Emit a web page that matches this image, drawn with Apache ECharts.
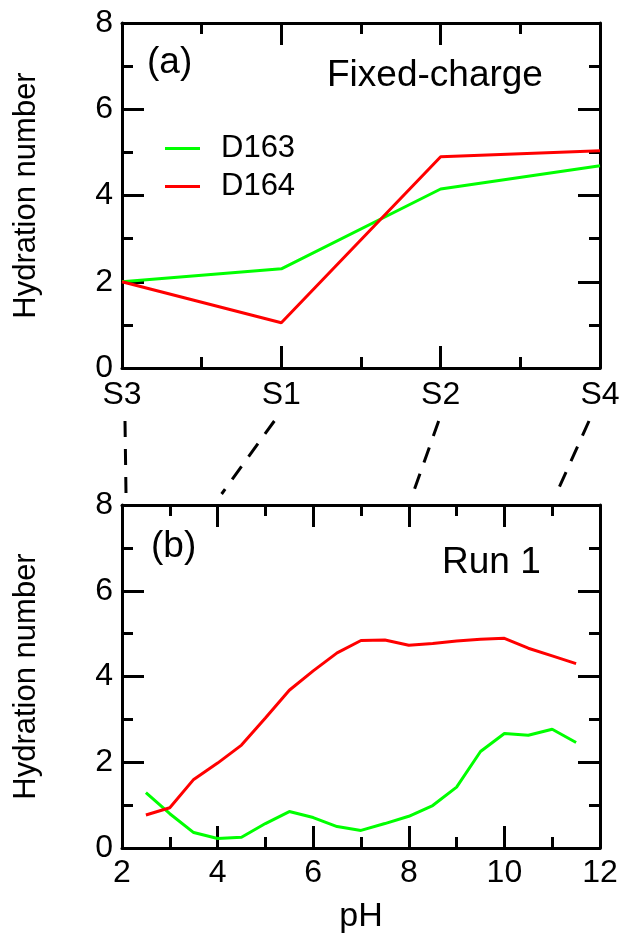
<!DOCTYPE html>
<html>
<head>
<meta charset="utf-8">
<script src="https://cdn.jsdelivr.net/npm/echarts@6/dist/echarts.min.js"></script>
<style>
html,body{margin:0;padding:0;background:#fff;}
#c{width:634px;height:935px;}
</style>
</head>
<body>
<div id="c"></div>
<script>
// ---- data ----
var stations = ['S3', 'S1', 'S2', 'S4'];
var stationIdx = [0, 1, 2, 3];
var fixedD163 = [2.0, 2.30, 4.15, 4.69];
var fixedD164 = [2.0, 1.05, 4.90, 5.04];

var pH = [2.5, 3, 3.5, 4, 4.5, 5, 5.5, 6, 6.5, 7, 7.5, 8, 8.5, 9, 9.5, 10, 10.5, 11, 11.5];
var run1D163 = [1.29, 0.80, 0.36, 0.22, 0.25, 0.57, 0.85, 0.71, 0.50, 0.41, 0.57, 0.74, 0.99, 1.42, 2.25, 2.67, 2.63, 2.77, 2.46];
var run1D164 = [0.77, 0.94, 1.60, 1.98, 2.40, 3.03, 3.68, 4.13, 4.55, 4.84, 4.85, 4.73, 4.77, 4.83, 4.87, 4.89, 4.66, 4.48, 4.30];

var yTicks = [0, 2, 4, 6, 8];
var pHTicks = [2, 4, 6, 8, 10, 12];
// station -> pH mapping of the dashed connectors
var linkPH = [2, 4, 8, 11];

var FONT = '"Liberation Sans", Arial, Helvetica, sans-serif';
var GREEN = '#00ff00', RED = '#ff0000';

function zip(a, b) { return a.map(function (v, i) { return [v, b[i]]; }); }

function xAx(grid, pos, opts) {
  var o = {
    type: 'value', gridIndex: grid, position: pos,
    axisLine: { show: true, onZero: false, lineStyle: { color: '#000', width: 3 } },
    axisTick: { show: true, inside: true, length: 22, lineStyle: { color: '#000', width: 3 } },
    minorTick: { show: true, splitNumber: 2, length: 11, lineStyle: { color: '#000', width: 3 } },
    splitLine: { show: false },
    axisLabel: { show: pos === 'bottom', color: '#000', fontFamily: FONT, fontSize: 32, margin: 10 }
  };
  for (var k in opts) o[k] = opts[k];
  return o;
}
function yAx(grid, pos, withName) {
  var o = {
    type: 'value', gridIndex: grid, position: pos, min: 0, max: 8, interval: 2,
    axisLine: { show: true, onZero: false, lineStyle: { color: '#000', width: 3 } },
    axisTick: { show: true, inside: true, length: 22, lineStyle: { color: '#000', width: 3 } },
    minorTick: { show: true, splitNumber: 2, length: 11, lineStyle: { color: '#000', width: 3 } },
    splitLine: { show: false },
    axisLabel: { show: pos === 'left', color: '#000', fontFamily: FONT, fontSize: 32, margin: 9,
      formatter: function (v) { return yTicks.indexOf(v) >= 0 ? String(v) : ''; } }
  };
  if (withName) {
    o.name = 'Hydration number';
    o.nameLocation = 'middle';
    o.nameGap = 80;
    o.nameTextStyle = { color: '#000', fontFamily: FONT, fontSize: 31 };
  }
  return o;
}

var chart = echarts.init(document.getElementById('c'), null, { renderer: 'canvas' });

var option = {
  animation: false,
  backgroundColor: '#fff',
  grid: [
    { left: 122, top: 23, width: 478, height: 345 },
    { left: 122, top: 505, width: 478, height: 344 }
  ],
  xAxis: [
    xAx(0, 'bottom', { min: 0, max: 3, interval: 1,
      axisLabel: { show: true, color: '#000', fontFamily: FONT, fontSize: 32, margin: 11,
        formatter: function (v) { return stations[stationIdx.indexOf(v)] || ''; } } }),
    xAx(0, 'top', { min: 0, max: 3, interval: 1 }),
    xAx(1, 'bottom', { min: 2, max: 12, interval: 2,
      name: 'pH', nameLocation: 'middle', nameGap: 52,
      nameTextStyle: { color: '#000', fontFamily: FONT, fontSize: 34 },
      axisLabel: { show: true, color: '#000', fontFamily: FONT, fontSize: 32, margin: 9,
        formatter: function (v) { return pHTicks.indexOf(v) >= 0 ? String(v) : ''; } } }),
    xAx(1, 'top', { min: 2, max: 12, interval: 2 })
  ],
  yAxis: [
    yAx(0, 'left', true),
    yAx(0, 'right', false),
    yAx(1, 'left', true),
    yAx(1, 'right', false)
  ],
  legend: {
    orient: 'vertical', left: 160, top: 128, itemGap: 7,
    icon: 'rect', itemWidth: 35, itemHeight: 3,
    textStyle: { color: '#000', fontFamily: FONT, fontSize: 31, lineHeight: 30, padding: [0, 0, 0, 16] },
    data: ['D163', 'D164']
  },
  series: [
    { name: 'D163', type: 'line', xAxisIndex: 0, yAxisIndex: 0, data: zip(stationIdx, fixedD163),
      symbol: 'none', lineStyle: { color: GREEN, width: 3 }, itemStyle: { color: GREEN }, z: 3 },
    { name: 'D164', type: 'line', xAxisIndex: 0, yAxisIndex: 0, data: zip(stationIdx, fixedD164),
      symbol: 'none', lineStyle: { color: RED, width: 3 }, itemStyle: { color: RED }, z: 4 },
    { name: 'D163', type: 'line', xAxisIndex: 2, yAxisIndex: 2, data: zip(pH, run1D163),
      symbol: 'none', lineStyle: { color: GREEN, width: 3 }, itemStyle: { color: GREEN }, z: 3 },
    { name: 'D164', type: 'line', xAxisIndex: 2, yAxisIndex: 2, data: zip(pH, run1D164),
      symbol: 'none', lineStyle: { color: RED, width: 3 }, itemStyle: { color: RED }, z: 4 }
  ]
};
chart.setOption(option);

// annotations: panel labels, titles and dashed connectors
var topOffsets = [3, -7, -2, -11];
var tg = [];
tg.push({ type: 'text', x: 147, y: 63, style: { text: '(a)', fill: '#000', font: '37px ' + FONT, verticalAlign: 'middle' } });
tg.push({ type: 'text', x: 327, y: 76, style: { text: 'Fixed-charge', fill: '#000', font: '37px ' + FONT, verticalAlign: 'middle' } });
tg.push({ type: 'text', x: 151, y: 547, style: { text: '(b)', fill: '#000', font: '37px ' + FONT, verticalAlign: 'middle' } });
tg.push({ type: 'text', x: 442, y: 563, style: { text: 'Run 1', fill: '#000', font: '37px ' + FONT, verticalAlign: 'middle' } });
for (var i = 0; i < stations.length; i++) {
  var tx = chart.convertToPixel({ xAxisIndex: 0 }, stationIdx[i]) + topOffsets[i];
  var bx = chart.convertToPixel({ xAxisIndex: 2 }, linkPH[i]) + 4;
  tg.push({ type: 'line', shape: { x1: tx, y1: 421, x2: bx, y2: 494 },
    style: { stroke: '#000', lineWidth: 3, lineDash: [16, 12] } });
}
chart.setOption({ graphic: { elements: tg } });
</script>
</body>
</html>
